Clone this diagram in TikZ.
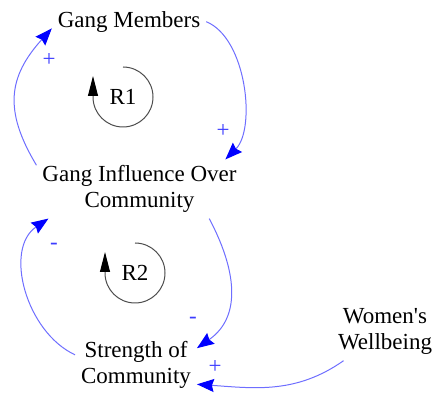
\documentclass[tikz,border=0pt]{standalone}
\usepackage{fontspec}
\setmainfont{Liberation Serif}[Ligatures=TeXOff]
\usetikzlibrary{arrows.meta}
\definecolor{linkblue}{RGB}{110,110,255}
\definecolor{headblue}{RGB}{0,0,255}
\definecolor{signblue}{RGB}{60,60,255}
\tikzset{
  var/.style={ align=center, inner sep=1pt, outer sep=2pt, font=\fontsize{11.5}{13}\selectfont }
}
\tikzset{
  link/.style={ draw=linkblue, line width=0.5pt, -{Stealth[length=8.5pt, width=6.5pt, inset=1pt, color=headblue]} }
}
\tikzset{
  sign/.style={ text=signblue, inner sep=0pt, font=\fontsize{11.5}{13}\selectfont }
}
\tikzset{
  loopsym/.style={ draw=black!70, line width=0.5pt, -{Triangle[length=10pt, width=5pt, color=black]} }
}

\begin{document}
\begin{tikzpicture}[x=0.5pt, y=0.5pt]
  \useasboundingbox (0,0) rectangle (433,-394);

  \node[var] (gm) at (129,-21.7) {Gang Members};
  \node[var] (gio) at (139.5,-189) {Gang Influence Over\\Community};
  \node[var] (sc) at (136,-364.5) {Strength of\\Community};
  \node[var] (ww) at (385,-331.7) {Women's\\Wellbeing};

  % loop R1
  \node[var, outer sep=0pt] (r1) at (123,-97) {R1};
  \draw[loopsym] ([yshift=15pt]r1.center) arc[start angle=90, end angle=-180, radius=15pt] -- ++(0,21);
  \draw[link] (gm.east) to[out=-22, in=45, looseness=0.8] (gio.19);
  \node[sign] (s1) at (223,-131) {+};
  \draw[link] (gio.167) to[out=121, in=228, looseness=1.2] (gm.185);
  \node[sign] (s2) at (49,-60) {+};

  % loop R2
  \node[var, outer sep=0pt] (r2) at (135,-273) {R2};
  \draw[loopsym] ([yshift=15pt]r2.center) arc[start angle=90, end angle=-180, radius=15pt] -- ++(0,21);
  \draw[link] (gio.-23) to[out=-62, in=35, looseness=1.1] (sc.15);
  \node[sign] (s3) at (193,-320) {-};
  \draw[link] (sc.171) to[out=155, in=214] (gio.198);
  \node[sign] (s4) at (54,-246) {-};

  \draw[link] (ww.215) to[out=215, in=-4] (sc.-18);
  \node[sign] (s5) at (215,-367) {+};
\end{tikzpicture}
\end{document}
